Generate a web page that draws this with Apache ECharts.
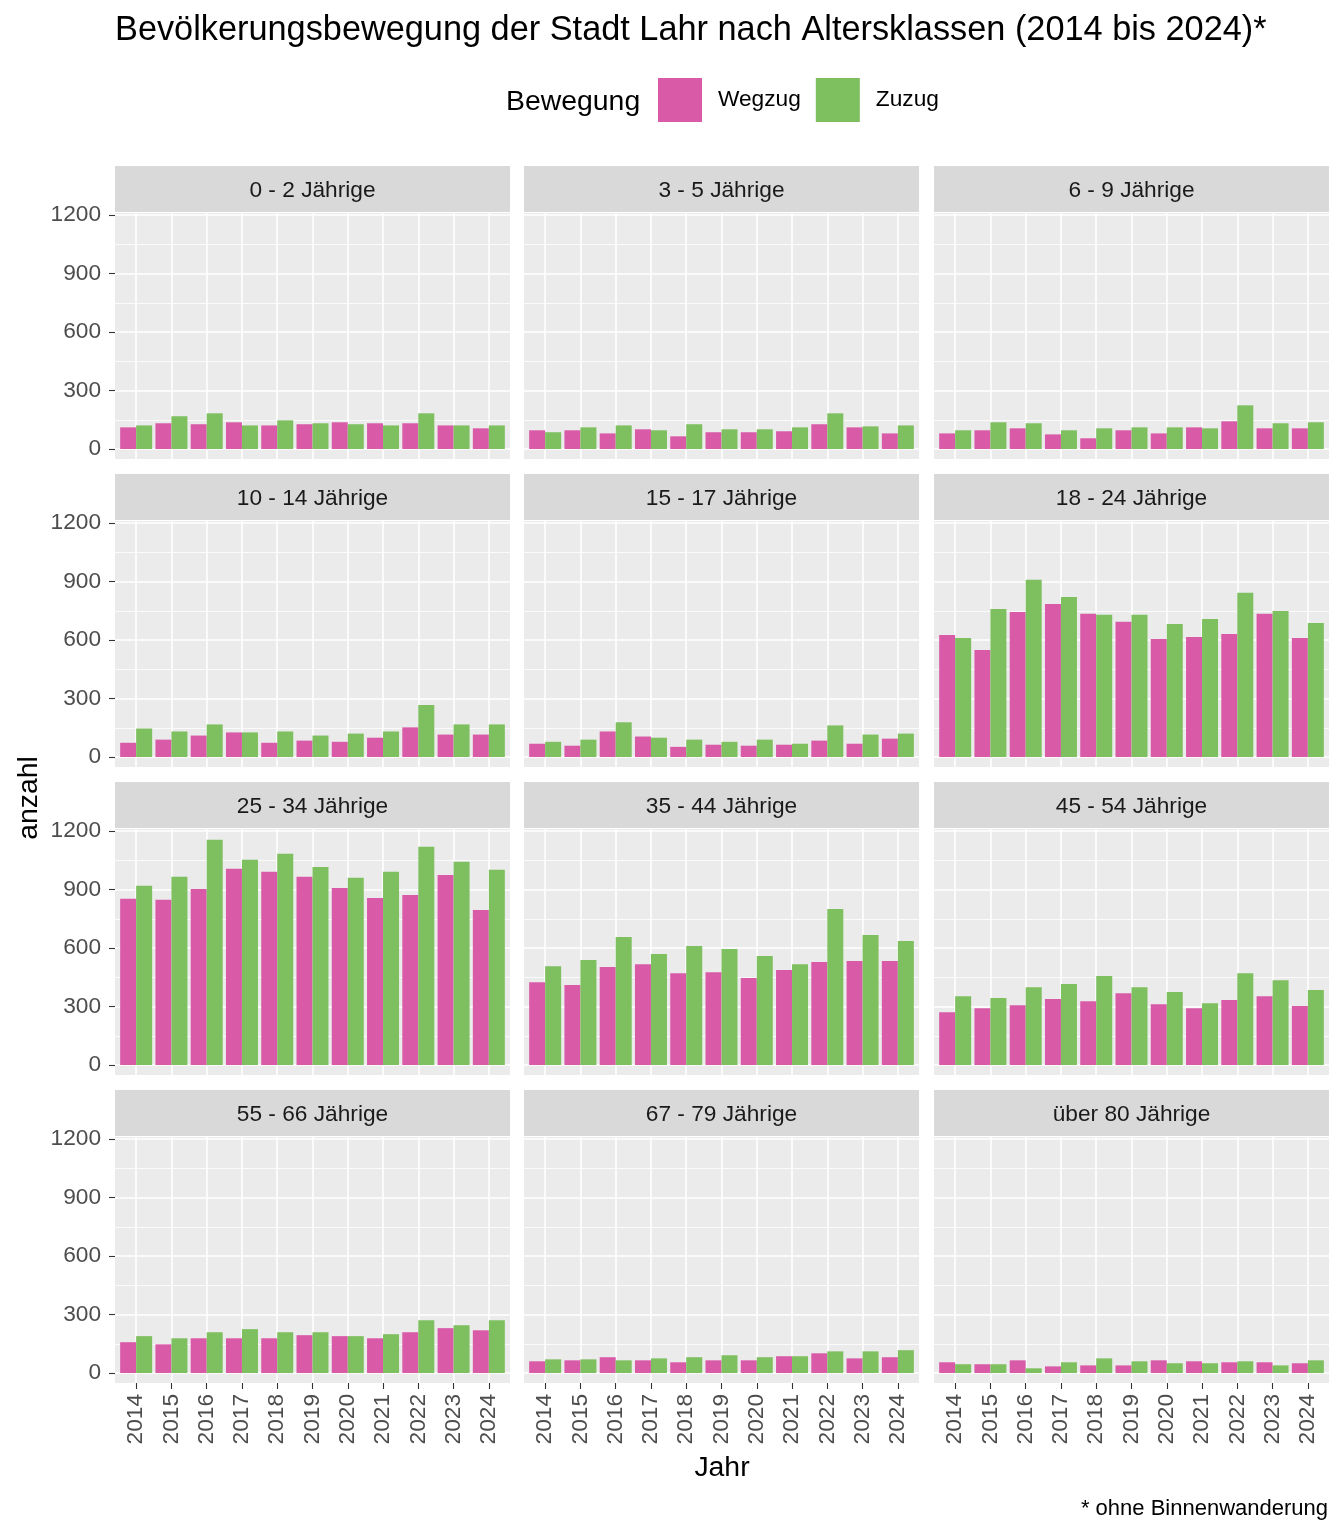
<!DOCTYPE html>
<html><head><meta charset="utf-8">
<script src="https://cdn.jsdelivr.net/npm/echarts@6/dist/echarts.min.js"></script>
<style>html,body{margin:0;padding:0;background:#fff}#c{width:1344px;height:1536px}</style>
</head><body><div id="c"></div><script>
// ---- data ----
const years = ['2014','2015','2016','2017','2018','2019','2020','2021','2022','2023','2024'];
const ageGroups = ['0 - 2 Jährige','3 - 5 Jährige','6 - 9 Jährige','10 - 14 Jährige','15 - 17 Jährige','18 - 24 Jährige','25 - 34 Jährige','35 - 44 Jährige','45 - 54 Jährige','55 - 66 Jährige','67 - 79 Jährige','über 80 Jährige'];
const yTicks = [0, 300, 600, 900, 1200];

const wegzug0to2   = [111,132,127,137,121,127,137,132,132,121,106];
const zuzug0to2    = [121,168,183,121,147,132,127,121,183,121,121];
const wegzug3to5   = [96,96,80,101,65,86,86,91,127,111,80];
const zuzug3to5    = [86,111,121,96,127,101,101,111,183,116,121];
const wegzug6to9   = [80,96,106,75,55,96,80,111,142,106,106];
const zuzug6to9    = [96,137,132,96,106,111,111,106,224,132,137];
const wegzug10to14 = [73,89,110,126,73,84,78,99,152,115,115];
const zuzug10to14  = [146,131,167,126,131,110,120,131,267,167,167];
const wegzug15to17 = [68,58,131,105,52,63,58,63,84,68,94];
const zuzug15to17  = [78,89,178,99,89,78,89,68,162,115,120];
const wegzug18to24 = [626,549,744,785,734,693,605,615,631,734,610];
const zuzug18to24  = [610,759,909,821,729,729,682,708,842,749,687];
const wegzug25to34 = [852,847,903,1006,991,965,908,857,872,975,795];
const zuzug25to34  = [919,965,1155,1052,1083,1016,960,991,1119,1042,1001];
const wegzug35to44 = [425,410,502,517,471,476,446,487,528,533,533];
const zuzug35to44  = [507,538,656,569,610,595,559,517,800,667,636];
const wegzug45to54 = [271,291,307,338,327,368,312,291,333,353,302];
const zuzug45to54  = [353,343,399,415,456,399,374,317,471,435,384];
const wegzug55to66 = [158,147,178,178,178,194,189,178,209,230,219];
const zuzug55to66  = [189,178,209,225,209,209,189,199,271,245,271];
const wegzug67to79 = [60,65,81,65,55,65,65,86,101,75,81];
const zuzug67to79  = [70,70,65,75,81,91,81,86,111,111,117];
const wegzug80plus = [55,45,65,34,39,39,65,60,55,55,50];
const zuzug80plus  = [45,45,24,55,75,60,50,50,60,39,65];

const wegzugList = [wegzug0to2,wegzug3to5,wegzug6to9,wegzug10to14,wegzug15to17,wegzug18to24,wegzug25to34,wegzug35to44,wegzug45to54,wegzug55to66,wegzug67to79,wegzug80plus];
const zuzugList  = [zuzug0to2,zuzug3to5,zuzug6to9,zuzug10to14,zuzug15to17,zuzug18to24,zuzug25to34,zuzug35to44,zuzug45to54,zuzug55to66,zuzug67to79,zuzug80plus];

// ---- layout / style ----
const FONT = '"Liberation Sans", Arial, sans-serif';
const PINK = '#D95BA8', GREEN = '#7EBF5F';
const colLeft = [115, 524, 934], rowTop = [213, 521, 829, 1137];
const PW = 395, PH = 246;            // full panel
const INNER_TOP = 2, INNER_H = 234;  // 1200..0 range inside panel
const NARROW_L = PW * 0.1 / 11.2, NARROW_W = PW * 11 / 11.2;  // ggplot discrete expansion

const grids = [], xAxes = [], yAxes = [], series = [], graphics = [];
const hiddenX = g => ({type: 'category', gridIndex: g, data: years, show: false});
const hiddenY = g => ({type: 'value', gridIndex: g, show: false, min: 0, max: 1200});

ageGroups.forEach((name, i) => {
  const r = Math.floor(i / 3), c = i % 3;
  const left = colLeft[c], top = rowTop[r];
  const gX = 3 * i, gY = 3 * i + 1, gBar = 3 * i + 2;

  // background panel
  graphics.push({type: 'rect', z: -10, shape: {x: left, y: top, width: PW, height: PH}, style: {fill: '#EBEBEB'}, silent: true});

  grids.push({left: left + NARROW_L, top: top, width: NARROW_W, height: PH, show: false});
  grids.push({left: left, top: top + INNER_TOP, width: PW, height: INNER_H, show: false});
  grids.push({left: left + NARROW_L, top: top + INNER_TOP, width: NARROW_W, height: INNER_H, show: false});

  xAxes.push({
    type: 'category', gridIndex: gX, data: years,
    axisLine: {show: false},
    axisTick: {show: r === 3, alignWithLabel: true, length: 6, lineStyle: {color: '#333333', width: 1.1}},
    axisLabel: {show: r === 3, rotate: 90, margin: 11, fontSize: 22.7, color: '#4D4D4D', fontFamily: FONT, padding: [6, 0, 0, 0]},
    splitLine: {show: true, alignWithLabel: true, lineStyle: {color: '#FFFFFF', width: 1.6}}
  });
  yAxes.push(hiddenY(gX));

  xAxes.push(hiddenX(gY));
  yAxes.push({
    type: 'value', gridIndex: gY, min: yTicks[0], max: yTicks[yTicks.length - 1], interval: 300,
    axisLine: {show: false},
    axisTick: {show: c === 0, length: 6, lineStyle: {color: '#333333', width: 1.1}},
    axisLabel: {show: c === 0, margin: 14, fontSize: 22.7, color: '#4D4D4D', fontFamily: FONT, padding: [3, 0, 0, 0], formatter: v => String(v)},
    splitLine: {show: true, lineStyle: {color: '#FFFFFF', width: 1.6}},
    minorTick: {show: false, splitNumber: 2},
    minorSplitLine: {show: true, lineStyle: {color: '#FFFFFF', width: 0.8}}
  });

  xAxes.push(hiddenX(gBar));
  yAxes.push(hiddenY(gBar));

  series.push({
    type: 'bar', name: 'Wegzug', xAxisIndex: gBar, yAxisIndex: gBar,
    data: wegzugList[i], barWidth: 16, barGap: '0%', itemStyle: {color: PINK}
  });
  series.push({
    type: 'bar', name: 'Zuzug', xAxisIndex: gBar, yAxisIndex: gBar,
    data: zuzugList[i], barWidth: 16, barGap: '0%', itemStyle: {color: GREEN}
  });

  // strip header
  graphics.push({type: 'rect', shape: {x: left, y: top - 47, width: PW, height: 46}, style: {fill: '#D9D9D9'}, silent: true});
  graphics.push({type: 'text', x: left + PW / 2, y: top - 22, style: {text: name, align: 'center', verticalAlign: 'middle', font: '22.7px ' + FONT, fill: '#1A1A1A'}, silent: true});
});

// texts
graphics.push({type: 'text', x: 115, y: 31, style: {text: 'Bevölkerungsbewegung der Stadt Lahr nach Altersklassen (2014 bis 2024)*', align: 'left', verticalAlign: 'middle', font: '34.3px ' + FONT, fill: '#000'}});
graphics.push({type: 'text', x: 506, y: 102, style: {text: 'Bewegung', align: 'left', verticalAlign: 'middle', font: '28.4px ' + FONT, fill: '#000'}});
graphics.push({type: 'text', x: 722, y: 1468, style: {text: 'Jahr', align: 'center', verticalAlign: 'middle', font: '28.4px ' + FONT, fill: '#000'}});
graphics.push({type: 'text', x: 29, y: 798, rotation: Math.PI / 2, style: {text: 'anzahl', align: 'center', verticalAlign: 'middle', font: '28.4px ' + FONT, fill: '#000'}});
graphics.push({type: 'text', x: 1328, y: 1509, style: {text: '* ohne Binnenwanderung', align: 'right', verticalAlign: 'middle', font: '22px ' + FONT, fill: '#000'}});

const option = {
  backgroundColor: '#FFFFFF',
  animation: false,
  legend: {
    left: 658, top: 78, padding: 0, itemWidth: 44, itemHeight: 44, itemGap: 15, icon: 'rect',
    data: ['Wegzug', 'Zuzug'],
    textStyle: {fontSize: 22.7, color: '#000', fontFamily: FONT, padding: [4, 0, 0, 11]}
  },
  grid: grids, xAxis: xAxes, yAxis: yAxes, series: series,
  graphic: graphics
};

const chart = echarts.init(document.getElementById('c'), null, {renderer: 'canvas'});
chart.setOption(option);
</script></body></html>
